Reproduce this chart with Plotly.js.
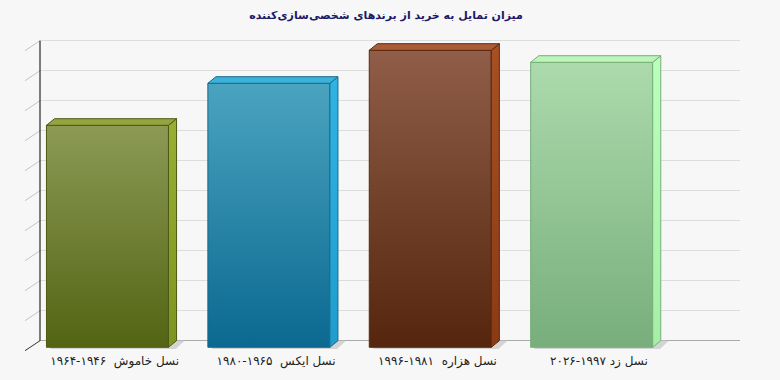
<!DOCTYPE html>
<html>
<head>
<meta charset="utf-8">
<script src="https://cdn.plot.ly/plotly-3.0.1.min.js"></script>
<style>
  html, body { margin: 0; padding: 0; background: #f7f7f7; }
  #chart { width: 780px; height: 380px; }
</style>
</head>
<body>
<div id="chart"></div>
<script>
// ---- data ----
const RLM = '\u200F';
const categories = [
  'نسل خاموش  ۱۹۴۶' + RLM + '-' + RLM + '۱۹۶۴',
  'نسل ایکس  ۱۹۶۵' + RLM + '-' + RLM + '۱۹۸۰',
  'نسل هزاره  ۱۹۸۱' + RLM + '-' + RLM + '۱۹۹۶',
  'نسل زد ۱۹۹۷' + RLM + '-' + RLM + '۲۰۲۶'
];
const values = [74, 88, 99, 95];
const gridValues = [0, 10, 20, 30, 40, 50, 60, 70, 80, 90, 100];
const chartTitle = 'میزان تمایل به خرید از برندهای شخصی‌سازی‌کننده';

// ---- styles ----
const frontTopColors    = ['#8c9a54', '#4aa4c0', '#905e48', '#acdaac'];
const frontBottomColors = ['#536414', '#0b6890', '#55250d', '#78ae7c'];
const topFaceColors     = ['#94a440', '#3cb2da', '#aa5c36', '#bcf4bc'];
const sideTopColors     = ['#98ae34', '#30b4e4', '#a85024', '#baffba'];
const sideBottomColors  = ['#7e9420', '#1f9ccc', '#8a3a14', '#a6eea6'];
const edgeColors        = ['#4d5a12', '#176a8c', '#572910', '#76ae78'];

const W = 0.756;   // front face width (category units)
const DX = 0.05;   // depth offset in x (category units)
const D = 2.2;     // depth offset in y (value units)
const yMin = -3.77, yMax = 103.57;
const xMin = -0.418, xMax = 3.919;

const traces = [];
function poly(xs, ys, fill, line, grad) {
  const t = {
    type: 'scatter', mode: 'lines', x: xs, y: ys, fill: 'toself',
    fillcolor: fill, line: {color: line, width: 1}, hoverinfo: 'skip', showlegend: false
  };
  if (grad) t.fillgradient = grad;
  traces.push(t);
}

values.forEach((v, i) => {
  const x0 = i - W / 2, x1 = i + W / 2;
  // floor shadow
  poly([x0 + 0.02, x1 + 0.045, x1 + DX + 0.05, x0 + DX + 0.03, x0 + 0.02],
       [-D - 0.6, -D - 0.6, 0, 0, -D - 0.6], '#d4d4d4', 'rgba(0,0,0,0)');
  // front face
  poly([x0, x1, x1, x0, x0], [-D, -D, v - D, v - D, -D], frontBottomColors[i], edgeColors[i],
       {type: 'vertical', start: -D, stop: v - D,
        colorscale: [[0, frontBottomColors[i]], [1, frontTopColors[i]]]});
  // side face
  poly([x1, x1 + DX, x1 + DX, x1, x1], [-D, 0, v, v - D, -D], sideTopColors[i], edgeColors[i],
       {type: 'vertical', start: -D, stop: v,
        colorscale: [[0, sideBottomColors[i]], [1, sideTopColors[i]]]});
  // top face
  poly([x0, x1, x1 + DX, x0 + DX, x0], [v - D, v - D, v, v, v - D], topFaceColors[i], edgeColors[i]);
});

const span = yMax - yMin;
const toPaperY = u => (u - yMin) / span;
const plotW = 700;
const shapes = [];
// wall edge line
shapes.push({type: 'line', xref: 'paper', yref: 'paper', x0: 0, x1: 0,
  y0: toPaperY(0), y1: toPaperY(100), line: {color: '#000000', width: 1}, layer: 'above'});
// diagonal tick marks
gridValues.forEach(g => {
  shapes.push({type: 'line', xref: 'paper', yref: 'paper',
    x0: -15 / plotW, x1: 0, y0: toPaperY(g - 10 / 3), y1: toPaperY(g),
    line: {color: g === 0 ? '#333333' : '#c4c4c4', width: 1}, layer: 'below'});
});

const layout = {
  width: 780, height: 380,
  margin: {l: 40, r: 40, t: 30, b: 28},
  paper_bgcolor: '#f7f7f7', plot_bgcolor: '#f7f7f7',
  title: {text: chartTitle, x: 0.495, xref: 'container', y: 1 - 15 / 380, yanchor: 'middle',
          font: {family: 'Tahoma, DejaVu Sans, sans-serif', size: 11, color: '#1a1a66', weight: 'bold'}},
  xaxis: {range: [xMin, xMax], showgrid: false, zeroline: false, showline: false,
          tickvals: values.map((v, i) => i + DX * 0.9), ticktext: categories, ticks: '',
          tickfont: {family: 'Tahoma, DejaVu Sans, sans-serif', size: 12, color: '#222222'},
          fixedrange: true},
  yaxis: {range: [yMin, yMax], tickvals: gridValues, showticklabels: false, ticks: '',
          showgrid: true, gridcolor: '#dddddd', gridwidth: 1,
          zeroline: true, zerolinecolor: '#aaaaaa', zerolinewidth: 1, showline: false, fixedrange: true},
  shapes: shapes,
  showlegend: false
};

Plotly.newPlot('chart', traces, layout, {displayModeBar: false, staticPlot: true});
</script>
</body>
</html>
